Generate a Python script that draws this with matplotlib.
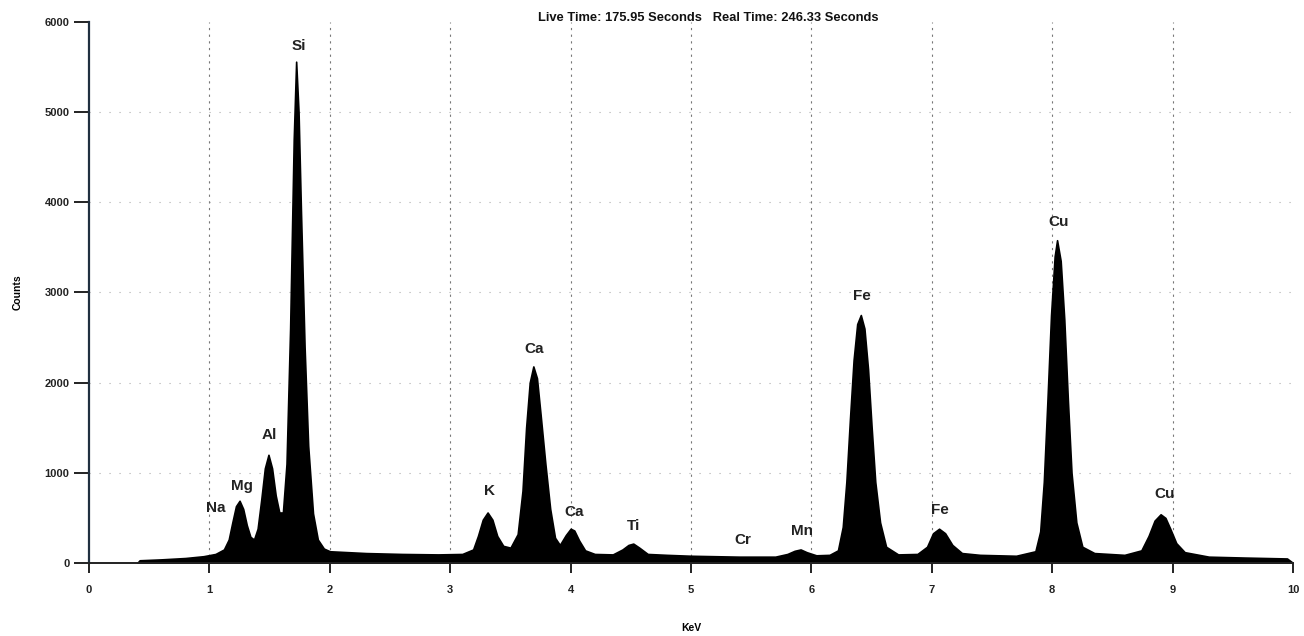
import numpy as np
import matplotlib.pyplot as plt

# spectrum (keV, counts)
kev = [0.40, 0.42, 0.60, 0.80, 0.95, 1.05, 1.12, 1.16, 1.19, 1.22, 1.25, 1.28, 1.31, 1.34, 1.37,
       1.40, 1.43, 1.46, 1.49, 1.52, 1.55, 1.58, 1.61, 1.64, 1.67, 1.70, 1.72, 1.74, 1.76,
       1.79, 1.82, 1.86, 1.90, 1.95, 2.00, 2.30, 2.60, 2.90, 3.10, 3.19, 3.23, 3.27, 3.31,
       3.35, 3.39, 3.44, 3.50, 3.56, 3.60, 3.63, 3.66, 3.69, 3.72, 3.75, 3.79, 3.83, 3.87,
       3.91, 3.96, 4.00, 4.03, 4.07, 4.12, 4.20, 4.35, 4.43, 4.48, 4.52, 4.57, 4.64, 4.80,
       5.00, 5.40, 5.70, 5.80, 5.86, 5.91, 5.96, 6.04, 6.15, 6.22, 6.26, 6.29, 6.32, 6.35,
       6.38, 6.41, 6.44, 6.47, 6.50, 6.53, 6.57, 6.62, 6.72, 6.88, 6.96, 7.01, 7.06, 7.11,
       7.17, 7.25, 7.40, 7.70, 7.86, 7.90, 7.93, 7.96, 7.99, 8.02, 8.04, 8.07, 8.10, 8.13,
       8.16, 8.20, 8.25, 8.35, 8.60, 8.74, 8.80, 8.85, 8.90, 8.94, 8.98, 9.03, 9.10, 9.30,
       9.60, 9.95, 10.0]
counts = [0, 30, 40, 55, 75, 100, 150, 260, 450, 630, 690, 600, 420, 290, 260,
          380, 700, 1050, 1200, 1050, 750, 560, 560, 1100, 2600, 4700, 5560, 5000, 3900,
          2400, 1300, 550, 260, 160, 130, 110, 100, 95, 100, 150, 300, 480, 560,
          480, 300, 190, 170, 320, 800, 1500, 2000, 2180, 2050, 1650, 1100, 600, 280,
          200, 310, 380, 360, 250, 140, 100, 95, 150, 200, 215, 170, 100, 90,
          80, 70, 70, 100, 135, 150, 120, 85, 90, 140, 400, 900, 1600, 2250,
          2650, 2750, 2600, 2150, 1500, 900, 450, 180, 95, 100, 180, 330, 380, 330,
          200, 110, 90, 80, 130, 350, 900, 1800, 2750, 3400, 3580, 3350, 2700, 1800,
          1000, 450, 180, 110, 90, 140, 300, 470, 540, 500, 380, 220, 120, 70,
          60, 50, 0]

# element labels
elements = ['Na', 'Mg', 'Al', 'Si', 'K', 'Ca', 'Ca', 'Ti', 'Cr', 'Mn', 'Fe', 'Fe', 'Cu', 'Cu']
label_x = [1.05, 1.27, 1.50, 1.74, 3.33, 3.70, 4.03, 4.52, 5.43, 5.92, 6.42, 7.07, 8.05, 8.93]
label_y = [530, 780, 1340, 5660, 720, 2300, 490, 330, 180, 280, 2880, 510, 3700, 690]

fig = plt.figure(figsize=(13.04, 6.36), dpi=100)
ax = fig.add_axes([0.0683, 0.1148, 0.9233, 0.8506])

ax.fill_between(kev, counts, 0, color='black', lw=1.2, edgecolor='black')

ax.set_xlim(0, 10)
ax.set_ylim(0, 6000)

# sparse dotted grid
for gx in range(1, 10):
    ax.axvline(gx, color='#555555', lw=0.8, ls=(0, (2, 4)), alpha=0.8, zorder=0)
for gy in range(1000, 6000, 1000):
    ax.axhline(gy, color='#888888', lw=0.8, ls=(0, (1, 8)), alpha=0.7, zorder=0)

for name, lx, ly in zip(elements, label_x, label_y):
    ax.text(lx, ly, name, ha='center', va='bottom', fontsize=11, fontweight='bold',
            color='#222222', family='Liberation Sans')

ax.set_xticks(range(0, 11))
ax.set_yticks(range(0, 7000, 1000))
ax.tick_params(axis='y', direction='out', length=11, width=1.4, labelsize=8, pad=3,
               colors='#222222')
ax.tick_params(axis='x', direction='out', length=7, width=1.4, labelsize=8, pad=9,
               colors='#222222')
for lab in ax.get_xticklabels() + ax.get_yticklabels():
    lab.set_fontweight('bold')
    lab.set_family('Liberation Sans')

ax.spines['top'].set_visible(False)
ax.spines['right'].set_visible(False)
ax.spines['left'].set_color('#203040')
ax.spines['left'].set_linewidth(1.6)
ax.spines['bottom'].set_color('#222222')
ax.spines['bottom'].set_linewidth(1.4)

ax.set_xlabel('KeV', fontsize=7.5, fontweight='bold', labelpad=20, family='Liberation Sans')
ax.set_ylabel('Counts', fontsize=7.5, fontweight='bold', labelpad=16, family='Liberation Sans')

fig.text(0.543, 0.972, 'Live Time: 175.95 Seconds   Real Time: 246.33 Seconds',
         ha='center', va='center', fontsize=9.3, fontweight='bold', family='Liberation Sans',
         color='#111111')

fig.savefig('out.png', dpi=100, facecolor='white')
